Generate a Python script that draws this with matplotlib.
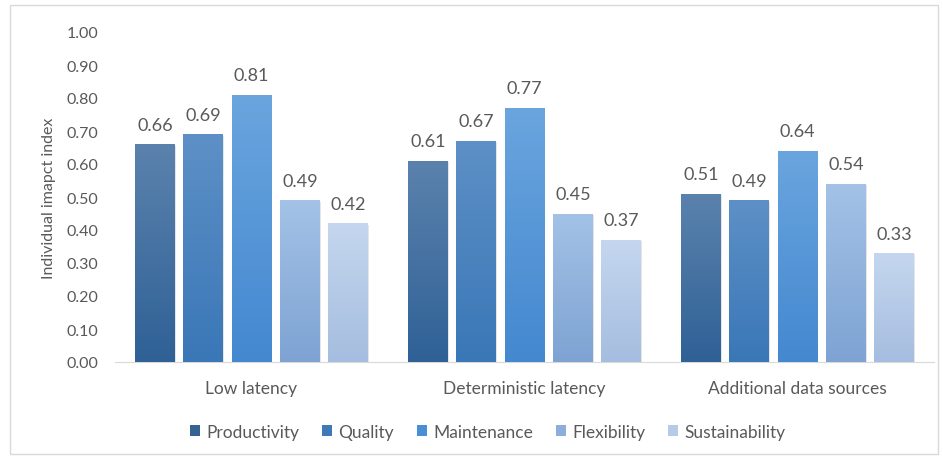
import numpy as np
import matplotlib.pyplot as plt
from matplotlib.colors import LinearSegmentedColormap
from matplotlib.patches import Rectangle

categories = ["Low latency", "Deterministic latency", "Additional data sources"]
series = ["Productivity", "Quality", "Maintenance", "Flexibility", "Sustainability"]
values = {
    "Productivity": [0.66, 0.61, 0.51],
    "Quality": [0.69, 0.67, 0.49],
    "Maintenance": [0.81, 0.77, 0.64],
    "Flexibility": [0.49, 0.45, 0.54],
    "Sustainability": [0.42, 0.37, 0.33],
}

# (top, bottom) gradient colours and legend swatch
tops = ["#5b82ad", "#5d90c6", "#6aa5de", "#a3c2e6", "#c5d7ef"]
bottoms = ["#2f6196", "#3a77b7", "#4488d0", "#7ea3d3", "#a5bddf"]
swatch = ["#376394", "#3f7ab8", "#4a8fd6", "#8daedb", "#b6cbe8"]

plt.rcParams['font.family'] = ['Lato', 'DejaVu Sans']
txt = "#595959"

fig = plt.figure(figsize=(9.43, 4.6), dpi=100)
fig.add_artist(Rectangle((10/943, 5/460), 928/943, 449/460, transform=fig.transFigure,
                         fill=False, edgecolor="#d9d9d9", lw=1))
ax = fig.add_axes([115/943, (460-363)/460, 819/943, 330/460])

x = np.arange(len(categories))
pitch = 0.177
width = 0.145
grad = np.linspace(1, 0, 256).reshape(-1, 1)

for i, s in enumerate(series):
    pos = x + (i - 2) * pitch
    bars = ax.bar(pos, values[s], width, color=swatch[i], label=s, zorder=2)
    cmap = LinearSegmentedColormap.from_list(s, [bottoms[i], tops[i]])
    for b, v in zip(bars, values[s]):
        bx, bw = b.get_x(), b.get_width()
        # soft shadow
        ax.add_patch(Rectangle((bx + 0.004, 0), bw, v - 0.004, color="#000000",
                               alpha=0.10, zorder=1, lw=0))
        im = ax.imshow(grad, extent=[bx, bx + bw, 0, v], aspect="auto", cmap=cmap,
                       zorder=3, interpolation="bilinear")
        im.set_clip_path(b)
        ax.text(bx + bw / 2, v + 0.035, f"{v:.2f}", ha="center", va="bottom",
                fontsize=13, color=txt, zorder=4)

ax.set_xlim(-0.5, 2.5)
ax.set_ylim(0, 1.0)
ax.set_yticks(np.arange(0, 1.01, 0.1))
ax.set_yticklabels([f"{t:.2f}" for t in np.arange(0, 1.01, 0.1)], color=txt, fontsize=11.5)
ax.set_xticks(x)
ax.set_xticklabels(categories, color=txt, fontsize=12.5)
ax.tick_params(axis="y", length=0, pad=12)
ax.tick_params(axis="x", length=0, pad=13)
for sp in ["top", "right", "left"]:
    ax.spines[sp].set_visible(False)
ax.spines["bottom"].set_color("#d9d9d9")
ax.set_ylabel("Individual imapct index", color=txt, fontsize=11.5)
ax.yaxis.set_label_coords(-0.072, 0.5)

ax.legend(loc="upper center", bbox_to_anchor=(0.455, -0.14), ncol=5, frameon=False,
          fontsize=12.5, labelcolor=txt, handlelength=0.6, handleheight=0.6,
          handletextpad=0.35, columnspacing=1.3)

fig.savefig("out.png", dpi=100)
